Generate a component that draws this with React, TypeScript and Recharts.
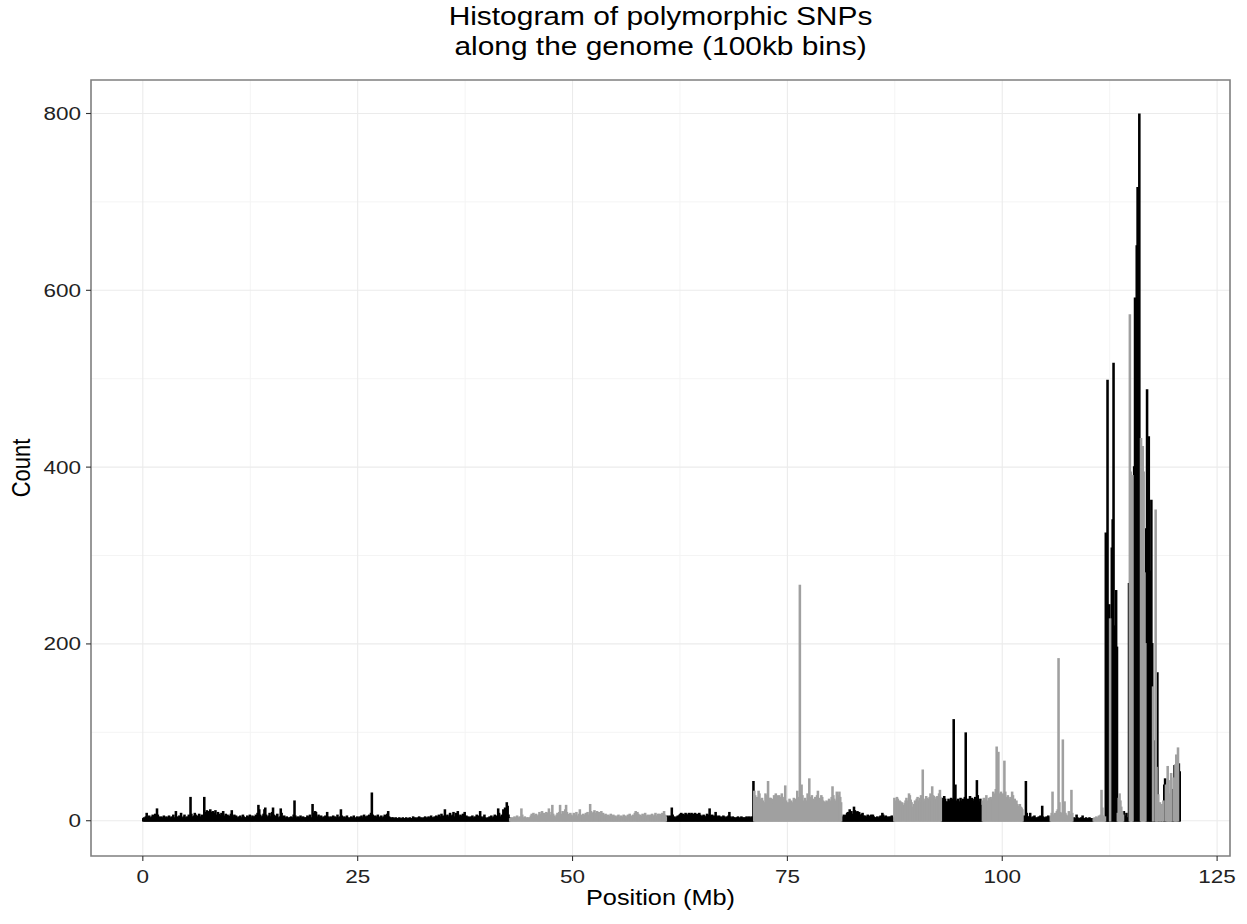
import React from "react";
import {
  ComposedChart,
  Bar,
  XAxis,
  YAxis,
  CartesianGrid,
  ReferenceArea,
} from "recharts";

// histogram of SNP counts, 100kb bins, chromosomes drawn one after the other
const BIN_MB = 0.1;

const X_TICKS = [0, 25, 50, 75, 100, 125];
const Y_TICKS = [0, 200, 400, 600, 800];
const X_MINOR = [12.5, 37.5, 62.5, 87.5, 112.5];
const Y_MINOR = [100, 300, 500, 700];

const X_DOMAIN = [-6.03, 126.5];
const Y_DOMAIN = [-39.9, 837.9];

// counts per bin, one array per chromosome (alternating colours)
const chr1 = [
  2, 3, 1, 4, 8, 3, 2, 5, 3, 2, 4, 6, 3, 2, 7, 3, 13, 6, 4, 3,
  2, 4, 3, 2, 5, 2, 3, 4, 2, 3, 5, 3, 2, 4, 3, 6, 3, 2, 10, 4,
  3, 2, 5, 4, 8, 3, 2, 4, 6, 3, 2, 4, 3, 6, 5, 26, 7, 4, 3, 5,
  8, 6, 4, 3, 5, 7, 4, 3, 6, 4, 3, 26, 9, 7, 11, 8, 10, 6, 12, 9,
  7, 10, 5, 8, 11, 6, 4, 9, 7, 5, 6, 8, 4, 10, 5, 3, 7, 4, 6, 3,
  5, 3, 7, 11, 4, 3, 6, 2, 5, 3, 2, 4, 3, 5, 2, 3, 6, 4, 2, 3,
  3, 5, 2, 4, 6, 3, 2, 5, 3, 4, 4, 6, 3, 8, 17, 12, 6, 4, 3, 5,
  7, 12, 14, 6, 4, 3, 5, 8, 4, 3, 9, 14, 6, 3, 5, 4, 7, 3, 2, 4,
  13, 8, 4, 3, 5, 2, 3, 4, 2, 3, 2, 3, 4, 2, 3, 6, 22, 5, 3, 2,
  4, 3, 2, 5, 3, 2, 4, 3, 2, 3, 3, 5, 2, 4, 6, 3, 2, 18, 8, 5,
  10, 9, 4, 3, 6, 4, 3, 5, 2, 3, 4, 3, 5, 2, 9, 4, 3, 2, 4, 3,
  3, 5, 2, 4, 3, 2, 6, 3, 2, 4, 12, 5, 3, 2, 4, 3, 2, 5, 3, 2,
  2, 3, 4, 2, 3, 5, 2, 3, 2, 4, 3, 2, 4, 3, 5, 2, 3, 6, 4, 3,
  4, 5, 3, 6, 4, 8, 31, 6, 4, 3, 5, 3, 4, 6, 3, 2, 4, 5, 3, 2,
  4, 6, 3, 5, 7, 10, 4, 3, 2, 3, 2, 3, 1, 2, 3, 2, 1, 2, 3, 2,
  1, 2, 3, 2, 1, 2, 3, 1, 2, 2, 3, 2, 1, 2, 4, 2, 3, 2, 1, 3,
  2, 4, 2, 3, 2, 1, 3, 2, 4, 2, 3, 2, 4, 3, 2, 5, 3, 2, 3, 4,
  3, 5, 2, 4, 6, 3, 4, 7, 3, 5, 4, 12, 5, 3, 6, 4, 3, 8, 5, 4,
  6, 9, 4, 3, 8, 5, 10, 4, 3, 6, 5, 3, 7, 4, 9, 3, 5, 2, 4, 3,
  3, 4, 2, 5, 3, 2, 4, 3, 6, 2, 3, 5, 10, 4, 3, 2, 4, 6, 3, 2,
  2, 3, 2, 4, 3, 5, 2, 3, 4, 6, 3, 5, 4, 13, 8, 4, 3, 6, 5, 12,
  8, 14, 5, 20, 16, 6, 3,
];

const chr2 = [
  2, 3, 2,
  3, 2, 4, 2, 3, 5, 3, 2, 4, 3, 13, 6, 3, 2, 4, 2, 3, 2, 3, 2,
  3, 5, 7, 4, 8, 6, 3, 7, 5, 4, 6, 9, 4, 7, 10, 5, 8, 4, 6, 9,
  5, 8, 13, 6, 4, 9, 17, 7, 5, 3, 4, 6, 8, 5, 9, 17, 7, 4, 10, 8,
  6, 12, 17, 9, 5, 7, 4, 8, 6, 3, 5, 8, 4, 6, 9, 5, 3, 7, 12, 6,
  4, 5, 7, 3, 6, 8, 5, 9, 6, 4, 18, 10, 8, 7, 9, 11, 6, 8, 10, 5,
  9, 6, 7, 10, 5, 8, 4, 6, 7, 5, 4, 6, 5, 3, 7, 4, 5, 6, 3, 5,
  4, 3, 5, 6, 4, 2, 5, 3, 4, 6, 3, 5, 4, 2, 6, 3, 7, 4, 5, 3,
  6, 4, 8, 10, 5, 9, 7, 4, 6, 3, 5, 7, 4, 6, 8, 5, 3, 6, 4, 5,
  6, 4, 7, 5, 3, 6, 8, 5, 4, 7, 5, 7, 4, 6, 8, 5, 10, 6, 4,
];

const chr3 = [
  4,
  5, 3, 4, 5, 4, 14, 6, 3, 4, 2, 3, 4, 5, 3, 6, 7, 8, 6, 7, 5,
  6, 8, 7, 6, 5, 8, 7, 6, 8, 5, 7, 6, 8, 5, 7, 6, 5, 8, 6, 4,
  5, 4, 6, 5, 3, 4, 7, 5, 6, 13, 5, 4, 6, 3, 5, 4, 9, 5, 3, 4,
  5, 3, 4, 2, 3, 5, 4, 3, 2, 4, 3, 5, 9, 4, 3, 2, 4, 3, 2, 3,
  2, 3, 4, 2, 3, 2, 4, 3, 2, 3, 2, 3, 4, 2, 3, 4, 3, 2, 4, 3,
  44,
];

const chr4 = [
  33, 28, 22, 26, 20, 33, 30, 24, 18,
  25, 22, 18, 20, 30, 26, 28, 44, 22, 25, 25, 20, 24, 19, 28, 26, 30, 28, 25, 27,
  28, 26, 22, 30, 24, 20, 26, 39, 22, 18, 20, 17, 24, 19, 22, 18, 20, 25, 21, 24,
  22, 33, 26, 18, 266, 30, 40, 28, 22, 20, 25, 22, 20, 30, 24, 47, 26, 22, 28, 24,
  20, 22, 26, 24, 28, 33, 25, 22, 24, 28, 26, 22, 21, 18, 20, 22, 21, 19, 24, 20,
  22, 26, 38, 28, 24, 20, 22, 32, 28, 24,
  32, 26, 20,
];

const chr5 = [
  2, 4, 6, 5, 3, 6, 8,
  9, 7, 12, 8, 10, 6, 7, 15, 11, 9, 8, 10, 7, 9, 6, 5, 7, 8, 5, 4,
  5, 3, 4, 6, 4, 3, 5, 6, 4, 6, 4, 3, 2, 3, 4, 2, 3, 4, 5, 3,
  8, 6, 3, 4, 5, 4, 3, 2, 4, 3,
  4, 5, 3, 2,
];

const chr6 = [
  25, 22, 20, 26, 24, 21,
  22, 21, 18, 20, 15, 17, 19, 22, 25, 20, 22, 30, 28, 23, 20, 15, 10, 18, 22, 20,
  24, 26, 20, 22, 25, 28, 21, 57, 24, 20, 22, 27, 25, 20, 24, 26, 30, 22, 38, 28,
  27, 24, 22, 26, 27, 20, 30, 34, 25,
];

const chr7 = [
  25,
  20, 22, 27, 24, 21, 18, 21, 24, 20, 22, 25, 20, 24, 114, 38, 40, 22, 19, 24, 21,
  20, 25, 22, 19, 24, 23, 26, 99, 23, 20, 24, 22, 27, 21, 25, 24, 20, 22, 26, 24,
  45, 28, 21, 20, 24, 17, 15,
];

const chr8 = [
  22, 25, 20,
  24, 28, 22, 20, 25, 21, 26, 22, 24, 32, 30, 28, 35, 83, 40, 77, 30, 28, 32, 26,
  30, 28, 67, 32, 26, 25, 28, 24, 22, 26, 25, 32, 28, 22, 24, 20, 22, 18, 16, 14,
  18, 15, 14, 12,
];

const chr9 = [
  3, 5, 4, 44, 8, 4,
  3, 4, 8, 3, 2, 4, 3, 5, 2, 3, 2, 3, 4, 2, 5, 3, 16, 4, 3, 2,
  3, 4, 2, 5, 3, 4,
];

const chr10 = [
  5, 8, 32, 6,
  4, 8, 6, 10, 12, 183, 20, 9, 5, 8, 91, 12, 21, 8, 6, 4, 5, 10, 7, 6,
  34, 8,
];

const chr11 = [
  2, 3, 1, 2, 6, 3, 2, 1, 2, 3, 2, 5, 2, 1, 2, 3, 2, 1, 2, 3, 2, 1, 2, 2,
];

const chromValues = [chr1, chr2, chr3, chr4, chr5, chr6, chr7, chr8, chr9, chr10, chr11];
const chromColors = ["black", "gray", "black", "gray", "black", "gray", "black", "gray", "black", "gray", "black"];

// last stretch: small scaffolds, black and gray interleaved
const tailBlack = [
  0, 0, 0, 0, 0, 0, 0, 0, 0, 0,
  0, 0, 0, 0, 325, 260, 498, 230, 244, 0,
  210, 308, 340, 517, 220, 205, 260, 196, 0, 0,
  0, 0, 0, 0, 0, 10, 5, 3, 8, 3,
  2, 268, 0, 0, 0, 0, 280, 400, 591, 460,
  650, 716, 600, 799, 258, 0, 0, 0, 0, 0,
  0, 330, 487, 300, 434, 282, 240, 362, 200, 0,
  60, 90, 0, 0, 167, 0, 5, 0, 3, 0,
  8, 0, 40, 47, 0, 12, 0, 0, 25, 0,
  0, 17, 35, 0, 62, 0, 0, 45, 0, 64,
  55,
];
const tailGray = [
  2, 3, 2, 4, 3, 2, 5, 4, 6, 34,
  14, 5, 3, 4, 0, 0, 0, 0, 0, 228,
  0, 0, 0, 0, 0, 0, 0, 0, 8, 25,
  30, 22, 15, 10, 6, 0, 0, 0, 0, 0,
  0, 0, 572, 394, 380, 390, 0, 0, 0, 0,
  0, 0, 0, 0, 0, 432, 420, 423, 394, 280,
  200, 0, 0, 0, 0, 0, 0, 0, 0, 151,
  0, 0, 351, 60, 0, 29, 0, 20, 0, 18,
  0, 22, 0, 0, 40, 0, 61, 45, 0, 30,
  53, 0, 0, 48, 0, 63, 74, 0, 82, 0,
  0,
];

const COLORS: Record<string, string> = {
  black: "#000000",
  gray: "#A0A0A0",
};

interface Bin {
  pos: number;
  black: number;
  gray: number;
}

const buildBins = (): Bin[] => {
  const out: Bin[] = [];
  let n = 0;
  chromValues.forEach((vals, c) => {
    vals.forEach((v) => {
      out.push({
        pos: (n + 0.5) * BIN_MB,
        black: chromColors[c] === "black" ? v : 0,
        gray: chromColors[c] === "gray" ? v : 0,
      });
      n++;
    });
  });
  tailBlack.forEach((b, i) => {
    out.push({ pos: (n + 0.5) * BIN_MB, black: b, gray: tailGray[i] });
    n++;
  });
  return out;
};

const bins = buildBins();

const FONT = '"Liberation Sans", Arial, Helvetica, sans-serif';
// the reference text is drawn a bit wider than the font's own proportions
const STRETCH = 1.15;

const XTick = (props: any) => {
  const { x, y, payload } = props;
  return (
    <g transform={`translate(${x},${y})`}>
      <text
        transform="scale(1.25,1)"
        textAnchor="middle"
        dy="0.71em"
        fill="#222222"
        fontSize={18}
        fontFamily={FONT}
      >
        {payload.value}
      </text>
    </g>
  );
};

const YTick = (props: any) => {
  const { x, y, payload } = props;
  return (
    <g transform={`translate(${x},${y})`}>
      <text
        transform="scale(1.25,1)"
        textAnchor="end"
        dy="0.355em"
        fill="#222222"
        fontSize={18}
        fontFamily={FONT}
      >
        {payload.value}
      </text>
    </g>
  );
};

const App: React.FC = () => {
  return (
    <div
      style={{
        position: "absolute",
        left: 0,
        top: 0,
        width: 1247,
        height: 924,
        background: "#fff",
        fontFamily: FONT,
      }}
    >
      <div
        style={{
          position: "absolute",
          left: 91,
          width: 1139,
          top: 1,
          textAlign: "center",
          fontSize: 26,
          lineHeight: "30px",
          color: "#000",
          transform: `scaleX(${STRETCH})`,
        }}
      >
        Histogram of polymorphic SNPs
        <br />
        along the genome (100kb bins)
      </div>
      <ComposedChart
        width={1247}
        height={924}
        data={bins}
        margin={{ top: 80, right: 17, bottom: 28, left: 31 }}
        barCategoryGap={0}
        barGap={0}
      >
        <CartesianGrid
          stroke="#F4F4F4"
          strokeWidth={1}
          horizontalValues={Y_MINOR}
          verticalValues={X_MINOR}
        />
        <CartesianGrid
          stroke="#EBEBEB"
          strokeWidth={1.1}
          horizontalValues={Y_TICKS}
          verticalValues={X_TICKS}
        />
        <XAxis
          type="number"
          dataKey="pos"
          domain={X_DOMAIN}
          ticks={X_TICKS}
          allowDataOverflow
          axisLine={false}
          tickSize={5}
          tickMargin={9}
          height={40}
          tickLine={{ stroke: "#333333", strokeWidth: 1.1 }}
          tick={<XTick />}
        />
        <YAxis
          type="number"
          domain={Y_DOMAIN}
          ticks={Y_TICKS}
          allowDataOverflow
          axisLine={false}
          tickSize={5}
          tickMargin={5}
          width={60}
          tickLine={{ stroke: "#333333", strokeWidth: 1.1 }}
          tick={<YTick />}
        />
        <Bar
          dataKey="black"
          stackId="h"
          fill={COLORS.black}
          stroke={COLORS.black}
          strokeWidth={1.7}
          isAnimationActive={false}
        />
        <Bar
          dataKey="gray"
          stackId="h"
          fill={COLORS.gray}
          stroke={COLORS.gray}
          strokeWidth={1.7}
          isAnimationActive={false}
        />
        <ReferenceArea
          x1={X_DOMAIN[0]}
          x2={X_DOMAIN[1]}
          y1={Y_DOMAIN[0]}
          y2={Y_DOMAIN[1]}
          fill="none"
          stroke="#7F7F7F"
          strokeWidth={1.6}
          ifOverflow="visible"
        />
      </ComposedChart>
      <div
        style={{
          position: "absolute",
          left: 91,
          width: 1139,
          top: 885,
          textAlign: "center",
          fontSize: 22,
          color: "#000",
          transform: `scaleX(${STRETCH})`,
        }}
      >
        Position (Mb)
      </div>
      <div
        style={{
          position: "absolute",
          left: 22 - 60,
          top: 468 - 14,
          width: 120,
          height: 28,
          lineHeight: "28px",
          textAlign: "center",
          fontSize: 22,
          color: "#000",
          transform: `rotate(-90deg) scaleY(${STRETCH})`,
        }}
      >
        Count
      </div>
    </div>
  );
};

export default App;
